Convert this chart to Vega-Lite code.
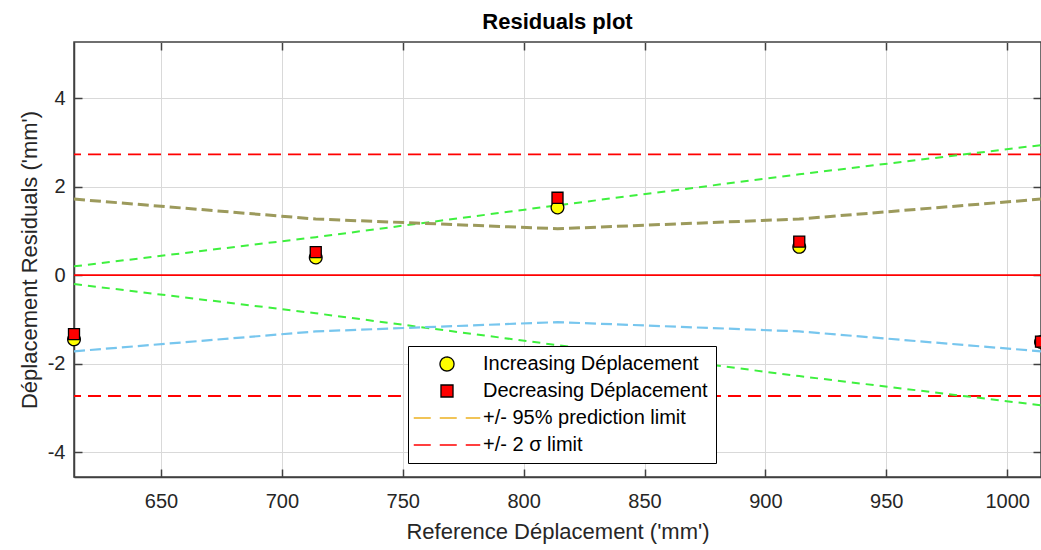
{
  "$schema": "https://vega.github.io/schema/vega-lite/v6.json",
  "width": 967,
  "height": 435,
  "autosize": {"type": "none"},
  "padding": {"left": 74, "top": 42, "right": 0, "bottom": 73},
  "background": "white",
  "title": {"text": "Residuals plot", "font": "Liberation Sans", "fontSize": 22, "fontWeight": "bold", "color": "#000000", "offset": 7, "anchor": "middle"},
  "config": {
    "view": {"stroke": "#404040", "strokeWidth": 1.5},
    "axis": {
      "labelFont": "Liberation Sans", "labelFontSize": 20, "labelColor": "#262626",
      "titleFont": "Liberation Sans", "titleFontSize": 22, "titleColor": "#262626", "titleFontWeight": "normal",
      "gridColor": "#d9d9d9", "gridWidth": 1,
      "domainColor": "#404040", "domainWidth": 1.5,
      "tickColor": "#404040", "tickWidth": 1.5, "tickSize": -8
    },
    "legend": {
      "orient": "none", "legendX": 334, "legendY": 304,
      "fillColor": "#ffffff", "strokeColor": "#000000", "padding": 8,
      "labelFont": "Liberation Sans", "labelFontSize": 20, "labelColor": "#000000", "labelLimit": 400,
      "symbolSize": 196, "symbolOffset": 21, "labelOffset": 26, "rowPadding": 7,
      "symbolOpacity": 1
    }
  },
  "datasets": {
    "pts": [
      {"x": 614, "y": -1.45, "series": "Increasing Déplacement"},
      {"x": 714, "y": 0.40, "series": "Increasing Déplacement"},
      {"x": 814, "y": 1.53, "series": "Increasing Déplacement"},
      {"x": 914, "y": 0.64, "series": "Increasing Déplacement"},
      {"x": 1014, "y": -1.51, "series": "Increasing Déplacement"},
      {"x": 614, "y": -1.33, "series": "Decreasing Déplacement"},
      {"x": 714, "y": 0.52, "series": "Decreasing Déplacement"},
      {"x": 814, "y": 1.75, "series": "Decreasing Déplacement"},
      {"x": 914, "y": 0.76, "series": "Decreasing Déplacement"},
      {"x": 1014, "y": -1.50, "series": "Decreasing Déplacement"}
    ],
    "curves": [
      {"x": 614, "y": 0.20, "line": "upperGreen"},
      {"x": 714, "y": 0.86, "line": "upperGreen"},
      {"x": 814, "y": 1.58, "line": "upperGreen"},
      {"x": 914, "y": 2.28, "line": "upperGreen"},
      {"x": 1014, "y": 2.94, "line": "upperGreen"},
      {"x": 614, "y": -0.20, "line": "lowerGreen"},
      {"x": 714, "y": -0.86, "line": "lowerGreen"},
      {"x": 814, "y": -1.58, "line": "lowerGreen"},
      {"x": 914, "y": -2.28, "line": "lowerGreen"},
      {"x": 1014, "y": -2.94, "line": "lowerGreen"},
      {"x": 614, "y": 1.72, "line": "upperPred"},
      {"x": 714, "y": 1.27, "line": "upperPred"},
      {"x": 814, "y": 1.05, "line": "upperPred"},
      {"x": 914, "y": 1.27, "line": "upperPred"},
      {"x": 1014, "y": 1.72, "line": "upperPred"},
      {"x": 614, "y": -1.72, "line": "lowerPred"},
      {"x": 714, "y": -1.27, "line": "lowerPred"},
      {"x": 814, "y": -1.06, "line": "lowerPred"},
      {"x": 914, "y": -1.27, "line": "lowerPred"},
      {"x": 1014, "y": -1.72, "line": "lowerPred"}
    ],
    "hlines": [
      {"y": 2.73, "kind": "sigma"},
      {"y": -2.73, "kind": "sigma"},
      {"y": 0, "kind": "zero"}
    ]
  },
  "resolve": {"axis": {"x": "independent", "y": "independent"}},
  "encoding": {
    "x": {
      "field": "x", "type": "quantitative",
      "scale": {"domain": [614, 1014], "nice": false, "zero": false},
      "axis": null
    },
    "y": {
      "field": "y", "type": "quantitative",
      "scale": {"domain": [-4.56, 5.27], "nice": false, "zero": false},
      "axis": null
    }
  },
  "layer": [
    {
      "data": {"name": "pts"},
      "mark": {"type": "point", "opacity": 0},
      "encoding": {
        "x": {
          "field": "x", "type": "quantitative",
          "scale": {"domain": [614, 1014], "nice": false, "zero": false},
          "axis": {"title": "Reference Déplacement ('mm')", "values": [650, 700, 750, 800, 850, 900, 950, 1000], "labelPadding": 22, "titlePadding": 10, "labelExpr": "'' + datum.value"}
        },
        "y": {
          "field": "y", "type": "quantitative",
          "scale": {"domain": [-4.56, 5.27], "nice": false, "zero": false},
          "axis": {"title": "Déplacement Residuals ('mm')", "values": [-4, -2, 0, 2, 4], "labelPadding": 17, "titlePadding": 6, "labelExpr": "'' + datum.value"}
        }
      }
    },
    {
      "data": {"name": "pts"},
      "mark": {"type": "point", "opacity": 0},
      "encoding": {
        "x": {
          "field": "x", "type": "quantitative",
          "scale": {"domain": [614, 1014], "nice": false, "zero": false},
          "axis": {"orient": "top", "title": null, "labels": false, "grid": false, "domain": false, "values": [650, 700, 750, 800, 850, 900, 950, 1000]}
        },
        "y": {
          "field": "y", "type": "quantitative",
          "scale": {"domain": [-4.56, 5.27], "nice": false, "zero": false},
          "axis": {"orient": "right", "title": null, "labels": false, "grid": false, "domain": false, "values": [-4, -2, 0, 2, 4]}
        }
      }
    },
    {
      "data": {"name": "hlines"},
      "transform": [{"filter": "datum.kind === 'sigma'"}],
      "mark": {"type": "rule", "color": "#ff0000", "strokeWidth": 1.8, "strokeDash": [13, 7]},
      "encoding": {"x": null}
    },
    {
      "data": {"name": "hlines"},
      "transform": [{"filter": "datum.kind === 'zero'"}],
      "mark": {"type": "rule", "color": "#ff0000", "strokeWidth": 1.8},
      "encoding": {"x": null}
    },
    {
      "data": {"name": "curves"},
      "transform": [{"filter": "datum.line === 'upperGreen'"}],
      "mark": {"type": "line", "color": "#3ef03e", "strokeWidth": 2, "strokeDash": [8, 6]},
      "encoding": {}
    },
    {
      "data": {"name": "curves"},
      "transform": [{"filter": "datum.line === 'lowerGreen'"}],
      "mark": {"type": "line", "color": "#3ef03e", "strokeWidth": 2, "strokeDash": [8, 6]},
      "encoding": {}
    },
    {
      "data": {"name": "curves"},
      "transform": [{"filter": "datum.line === 'upperPred'"}],
      "mark": {"type": "line", "color": "#9c9a5c", "strokeWidth": 3, "strokeDash": [11, 5]},
      "encoding": {}
    },
    {
      "data": {"name": "curves"},
      "transform": [{"filter": "datum.line === 'lowerPred'"}],
      "mark": {"type": "line", "color": "#77c6ee", "strokeWidth": 2.2, "strokeDash": [11, 5]},
      "encoding": {}
    },
    {
      "data": {"name": "pts"},
      "mark": {"type": "point", "filled": true, "opacity": 1},
      "encoding": {
        "fill": {
          "field": "series", "type": "nominal",
          "scale": {"domain": ["Increasing Déplacement", "Decreasing Déplacement", "+/- 95% prediction limit", "+/- 2 σ limit"], "range": ["#ffff00", "#ff0000", "transparent", "transparent"]},
          "legend": {"title": null}
        },
        "stroke": {
          "field": "series", "type": "nominal",
          "scale": {"domain": ["Increasing Déplacement", "Decreasing Déplacement", "+/- 95% prediction limit", "+/- 2 σ limit"], "range": ["#000000", "#000000", "#edb120", "#ff0000"]},
          "legend": {"title": null}
        },
        "strokeDash": {
          "field": "series", "type": "nominal",
          "scale": {"domain": ["Increasing Déplacement", "Decreasing Déplacement", "+/- 95% prediction limit", "+/- 2 σ limit"], "range": [[1, 0], [1, 0], [17, 9], [17, 9]]},
          "legend": {"title": null}
        },
        "strokeWidth": {
          "field": "series", "type": "nominal",
          "scale": {"domain": ["Increasing Déplacement", "Decreasing Déplacement", "+/- 95% prediction limit", "+/- 2 σ limit"], "range": [1.3, 1.3, 2, 2]},
          "legend": {"title": null}
        },
        "shape": {
          "field": "series", "type": "nominal",
          "scale": {"domain": ["Increasing Déplacement", "Decreasing Déplacement", "+/- 95% prediction limit", "+/- 2 σ limit"], "range": ["circle", "M-0.86,-0.86H0.86V0.86H-0.86Z", "M-4.75,0H4.75", "M-4.75,0H4.75"]},
          "legend": {"title": null}
        },
        "size": {
          "field": "series", "type": "nominal",
          "scale": {"domain": ["Increasing Déplacement", "Decreasing Déplacement"], "range": [160, 164]},
          "legend": null
        }
      }
    }
  ]
}
